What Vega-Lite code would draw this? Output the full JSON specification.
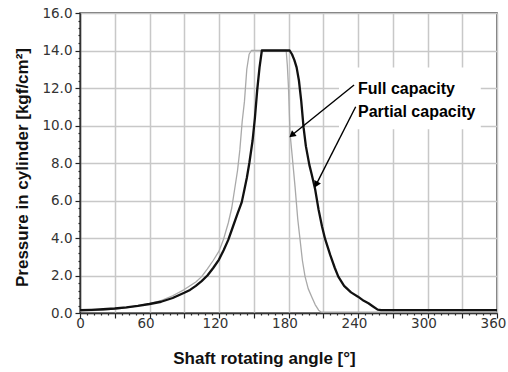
{
  "$schema": "https://vega.github.io/schema/vega-lite/v6.json",
  "width": 417,
  "height": 300,
  "autosize": "none",
  "padding": {"left": 80, "top": 13, "right": 11, "bottom": 59},
  "background": "white",
  "config": {"view": {"stroke": "#444", "strokeWidth": 1.5}},
  "datasets": {
    "full": [
      {"angle": 0, "p": 0.1}, {"angle": 20, "p": 0.16}, {"angle": 40, "p": 0.28}, {"angle": 60, "p": 0.5},
      {"angle": 70, "p": 0.66}, {"angle": 80, "p": 0.92}, {"angle": 90, "p": 1.25}, {"angle": 100, "p": 1.65},
      {"angle": 105, "p": 1.94}, {"angle": 110, "p": 2.35}, {"angle": 115, "p": 2.8}, {"angle": 120, "p": 3.3},
      {"angle": 124, "p": 3.95}, {"angle": 128, "p": 4.8}, {"angle": 131, "p": 5.6}, {"angle": 134, "p": 6.8},
      {"angle": 136, "p": 7.6}, {"angle": 138, "p": 8.7}, {"angle": 140, "p": 10.2}, {"angle": 142, "p": 11.3},
      {"angle": 144, "p": 13.0}, {"angle": 146, "p": 13.8}, {"angle": 148, "p": 14.0}, {"angle": 178, "p": 14.0},
      {"angle": 179, "p": 13.2}, {"angle": 180, "p": 12.0}, {"angle": 181.3, "p": 9.6}, {"angle": 183, "p": 8.5},
      {"angle": 185.7, "p": 6.7}, {"angle": 188, "p": 5.0}, {"angle": 190, "p": 3.9}, {"angle": 192, "p": 2.8},
      {"angle": 194.3, "p": 1.94}, {"angle": 197, "p": 1.3}, {"angle": 200, "p": 0.87}, {"angle": 203, "p": 0.45},
      {"angle": 206, "p": 0.15}, {"angle": 208, "p": 0.05}, {"angle": 360, "p": 0.05}
    ],
    "partial": [
      {"angle": 0, "p": 0.15}, {"angle": 10, "p": 0.17}, {"angle": 20, "p": 0.2}, {"angle": 30, "p": 0.24},
      {"angle": 40, "p": 0.3}, {"angle": 50, "p": 0.38}, {"angle": 60, "p": 0.48}, {"angle": 70, "p": 0.6},
      {"angle": 80, "p": 0.8}, {"angle": 90, "p": 1.08}, {"angle": 95, "p": 1.23}, {"angle": 100, "p": 1.45},
      {"angle": 105, "p": 1.7}, {"angle": 110, "p": 2.0}, {"angle": 115, "p": 2.4}, {"angle": 120, "p": 2.85},
      {"angle": 124, "p": 3.35}, {"angle": 128, "p": 3.9}, {"angle": 132, "p": 4.6}, {"angle": 136, "p": 5.3},
      {"angle": 139.6, "p": 5.9}, {"angle": 142, "p": 6.6}, {"angle": 144, "p": 7.2}, {"angle": 146.2, "p": 8.0},
      {"angle": 149, "p": 9.2}, {"angle": 151, "p": 10.4}, {"angle": 153, "p": 11.9}, {"angle": 155, "p": 13.1},
      {"angle": 157, "p": 14.0}, {"angle": 181, "p": 14.0}, {"angle": 183, "p": 13.8}, {"angle": 185, "p": 13.5},
      {"angle": 187, "p": 13.1}, {"angle": 189, "p": 12.4}, {"angle": 191, "p": 11.3}, {"angle": 193, "p": 9.9},
      {"angle": 195, "p": 8.9}, {"angle": 198, "p": 7.9}, {"angle": 200, "p": 7.4}, {"angle": 203, "p": 6.6},
      {"angle": 206, "p": 5.5}, {"angle": 209, "p": 4.6}, {"angle": 211.6, "p": 3.95}, {"angle": 216, "p": 3.1},
      {"angle": 220, "p": 2.4}, {"angle": 223, "p": 1.94}, {"angle": 228, "p": 1.45}, {"angle": 234, "p": 1.1},
      {"angle": 240, "p": 0.87}, {"angle": 245, "p": 0.65}, {"angle": 249, "p": 0.52}, {"angle": 253, "p": 0.35},
      {"angle": 257, "p": 0.18}, {"angle": 260, "p": 0.15}, {"angle": 360, "p": 0.15}
    ],
    "box": [{"a1": 223.6, "a2": 346, "p1": 9.8, "p2": 13.1}],
    "labels": [
      {"angle": 240, "p": 11.68, "text": "Full capacity"},
      {"angle": 240, "p": 10.47, "text": "Partial capacity"}
    ],
    "arrows": [
      {"a1": 236.6, "p1": 12.16, "a2": 183.6, "p2": 9.52},
      {"a1": 238, "p1": 11.0, "a2": 204.3, "p2": 6.9}
    ],
    "headFull": [{"angle": 183.6, "p": 9.52}],
    "headPartial": [{"angle": 204.3, "p": 6.9}]
  },
  "layer": [
    {
      "data": {"name": "box"},
      "mark": {"type": "rect", "fill": "white", "stroke": null},
      "encoding": {
        "x": {"field": "a1", "type": "quantitative", "scale": {"domain": [0, 360], "nice": false, "zero": false},
          "axis": {
            "values": [0,6,12,18,24,30,36,42,48,54,60,66,72,78,84,90,96,102,108,114,120,126,132,138,144,150,156,162,168,174,180,186,192,198,204,210,216,222,228,234,240,246,252,258,264,270,276,282,288,294,300,306,312,318,324,330,336,342,348,354,360],
            "tickCount": 200,
            "title": "Shaft rotating angle [°]",
            "labelExpr": "datum.value % 60 === 0 ? datum.label : ''",
            "gridOpacity": {"condition": {"test": "datum.value % 30 === 0", "value": 1}, "value": 0},
            "gridColor": "#c8c8c8",
            "gridWidth": 1.5,
            "tickSize": {"condition": {"test": "datum.value % 30 === 0", "value": 5}, "value": 2},
            "tickColor": "#222",
            "tickWidth": 1.2,
            "domainColor": "#333",
            "domainWidth": 1.5,
            "labelFont": "DejaVu Sans",
            "labelFontSize": 13.5,
            "labelColor": "#333",
            "labelPadding": -1.5,
            "labelOverlap": false,
            "labelFlush": false,
            "labelOffset": {"condition": {"test": "datum.value > 0", "value": -4}, "value": 0},
            "titleFont": "Liberation Sans",
            "titleFontSize": 17,
            "titleFontWeight": "bold",
            "titleColor": "#111",
            "titlePadding": 20,
            "titleX": 184
          }
        },
        "x2": {"field": "a2"},
        "y": {"field": "p1", "type": "quantitative", "scale": {"domain": [0, 16], "nice": false, "zero": false},
          "axis": {
            "values": [0,0.4,0.8,1.2,1.6,2,2.4,2.8,3.2,3.6,4,4.4,4.8,5.2,5.6,6,6.4,6.8,7.2,7.6,8,8.4,8.8,9.2,9.6,10,10.4,10.8,11.2,11.6,12,12.4,12.8,13.2,13.6,14,14.4,14.8,15.2,15.6,16],
            "tickCount": 200,
            "format": ".1f",
            "title": "Pressure in cylinder [kgf/cm²]",
            "labelExpr": "datum.value % 2 === 0 ? datum.label : ''",
            "gridOpacity": {"condition": {"test": "datum.value % 2 === 0", "value": 1}, "value": 0},
            "gridColor": "#c8c8c8",
            "gridWidth": 1.5,
            "tickSize": {"condition": {"test": "datum.value % 2 === 0", "value": 5}, "value": 2},
            "tickColor": "#222",
            "tickWidth": 1.2,
            "domainColor": "#333",
            "domainWidth": 1.5,
            "labelFont": "DejaVu Sans",
            "labelFontSize": 13.5,
            "labelColor": "#333",
            "labelPadding": 3,
            "labelOverlap": false,
            "labelFlush": false,
            "titleFont": "Liberation Sans",
            "titleFontSize": 17,
            "titleFontWeight": "bold",
            "titleColor": "#111",
            "titlePadding": 10,
            "titleY": 154
          }
        },
        "y2": {"field": "p2"}
      }
    },
    {
      "data": {"name": "full"},
      "mark": {"type": "line", "color": "#a9a9a9", "strokeWidth": 1.3, "strokeJoin": "round"},
      "encoding": {
        "x": {"field": "angle", "type": "quantitative"},
        "y": {"field": "p", "type": "quantitative"}
      }
    },
    {
      "data": {"name": "partial"},
      "mark": {"type": "line", "color": "#111111", "strokeWidth": 2.3, "strokeJoin": "round"},
      "encoding": {
        "x": {"field": "angle", "type": "quantitative"},
        "y": {"field": "p", "type": "quantitative"}
      }
    },
    {
      "data": {"name": "arrows"},
      "mark": {"type": "rule", "color": "#000", "strokeWidth": 1.4},
      "encoding": {
        "x": {"field": "a1", "type": "quantitative"},
        "y": {"field": "p1", "type": "quantitative"},
        "x2": {"field": "a2"},
        "y2": {"field": "p2"}
      }
    },
    {
      "data": {"name": "headFull"},
      "mark": {"type": "point", "shape": "triangle", "filled": true, "color": "#000", "size": 55, "angle": 231, "opacity": 1},
      "encoding": {
        "x": {"field": "angle", "type": "quantitative"},
        "y": {"field": "p", "type": "quantitative"}
      }
    },
    {
      "data": {"name": "headPartial"},
      "mark": {"type": "point", "shape": "triangle", "filled": true, "color": "#000", "size": 55, "angle": 207, "opacity": 1},
      "encoding": {
        "x": {"field": "angle", "type": "quantitative"},
        "y": {"field": "p", "type": "quantitative"}
      }
    },
    {
      "data": {"name": "labels"},
      "mark": {"type": "text", "align": "left", "baseline": "alphabetic", "font": "Liberation Sans", "fontSize": 16, "fontWeight": "bold", "color": "#000"},
      "encoding": {
        "x": {"field": "angle", "type": "quantitative"},
        "y": {"field": "p", "type": "quantitative"},
        "text": {"field": "text"}
      }
    }
  ]
}
